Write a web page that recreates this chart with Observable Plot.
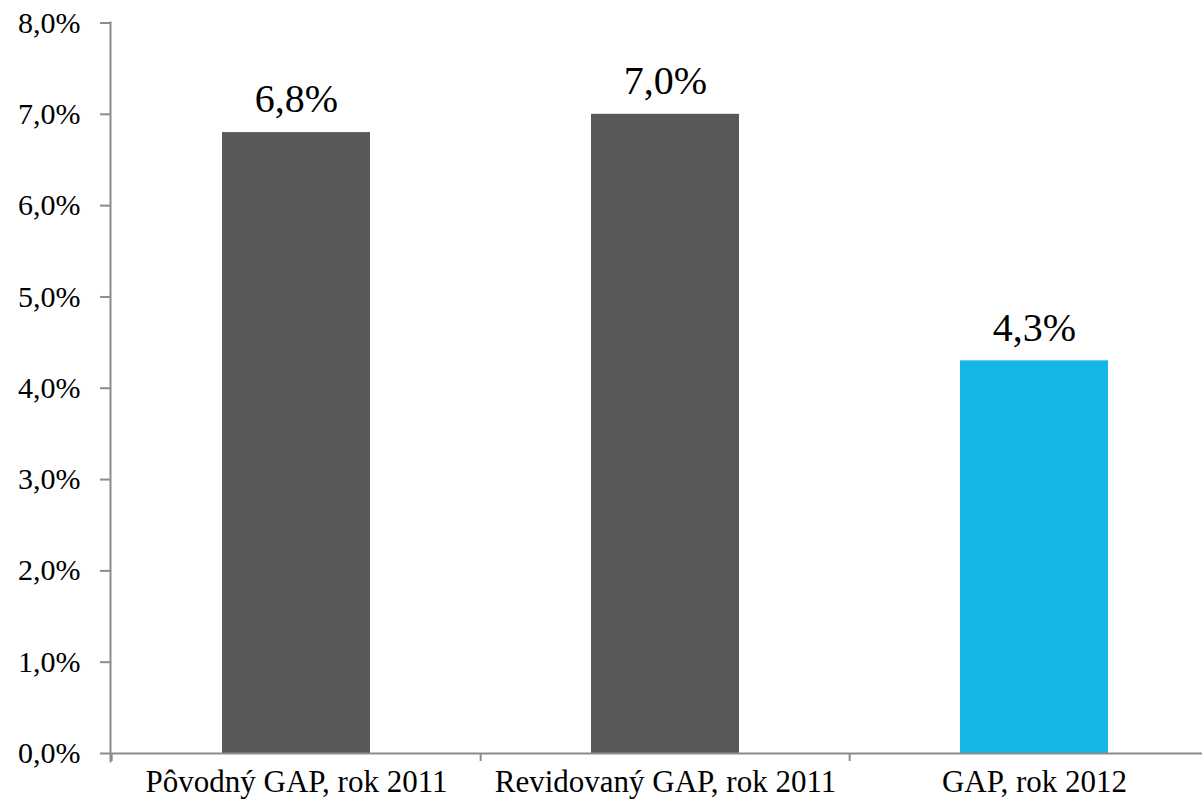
<!DOCTYPE html>
<html>
<head>
<meta charset="utf-8">
<script src="https://cdn.jsdelivr.net/npm/d3@7"></script>
<script src="https://cdn.jsdelivr.net/npm/@observablehq/plot@0.6"></script>
<style>
  html, body { margin: 0; padding: 0; background: #fff; }
  #chart svg { display: block; }
</style>
</head>
<body>
<div id="chart"></div>
<script>
const categories = ["Pôvodný GAP, rok 2011", "Revidovaný GAP, rok 2011", "GAP, rok 2012"];
const values = [6.8, 7.0, 4.3];
const barColors = ["#58595b", "#58595b", "#15b5e8"];
const yTicks = [0, 1, 2, 3, 4, 5, 6, 7, 8];

const data = categories.map((c, i) => ({cat: c, value: values[i], color: barColors[i]}));
const fmt = v => v.toFixed(1).replace(".", ",") + "%";

const W = 1202, H = 807;
const xRange = [110, 1219];
const step = (xRange[1] - xRange[0]) / categories.length;
const font = "'Liberation Serif', 'DejaVu Serif', serif";

const plot = Plot.plot({
  width: W,
  height: H,
  marginLeft: 110,
  marginRight: 0,
  marginTop: 22,
  marginBottom: 46,
  style: {fontFamily: font, color: "#000", background: "#fff"},
  x: {domain: categories, range: xRange, paddingInner: 0.6, paddingOuter: 0.3, label: null},
  y: {domain: [0, 8], range: [753, 22.5], label: null},
  marks: [
    Plot.barY(data, {x: "cat", y: "value", fill: "color"}),
    Plot.ruleY([0], {stroke: "#8c8c8c", strokeWidth: 2}),
    Plot.ruleX(categories, {x: d => d, dx: -step / 2, y1: () => 0, y2: () => 0, insetBottom: -8, stroke: "#8c8c8c", strokeWidth: 2}),
    Plot.frame({anchor: "left", stroke: "#8c8c8c", strokeWidth: 2}),
    Plot.axisY({ticks: yTicks, tickFormat: fmt, tickSize: 10, tickPadding: 20, fontSize: 30, stroke: "#8c8c8c", strokeWidth: 2, label: null}),
    Plot.axisX({tickSize: 0, tickPadding: 8, fontSize: 31, label: null}),
    Plot.text(data, {x: "cat", y: "value", text: d => fmt(d.value), dy: -33, fontSize: 40, fill: "#000"})
  ]
});
document.getElementById("chart").append(plot);
</script>
</body>
</html>
